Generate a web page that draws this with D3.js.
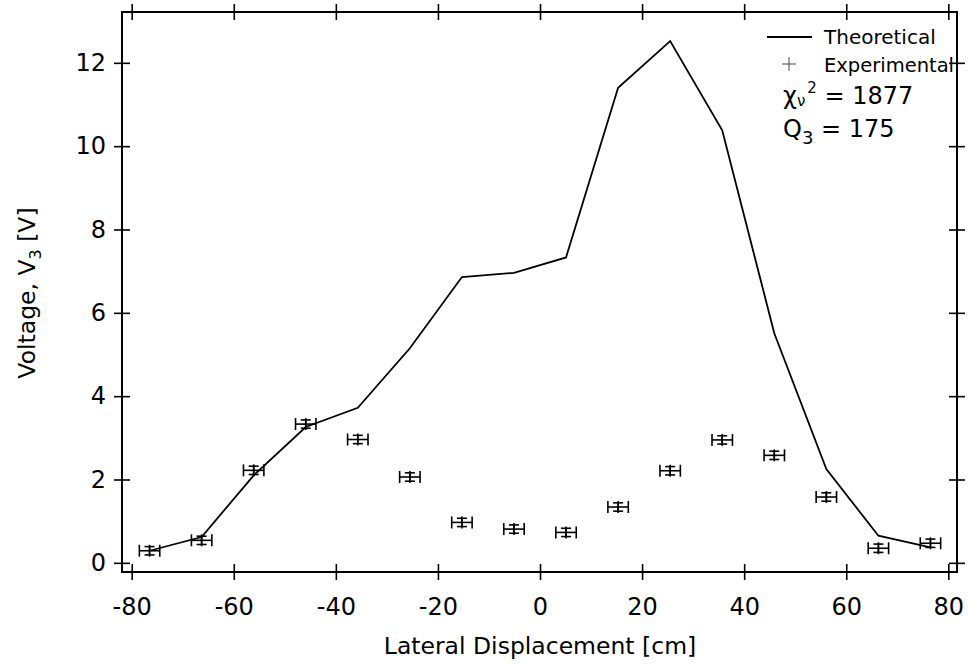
<!DOCTYPE html>
<html>
<head>
<meta charset="utf-8">
<script src="https://cdn.jsdelivr.net/npm/d3@7"></script>
<style>
  body { margin: 0; background: white; }
  svg { display: block; }
  text { font-family: "DejaVu Sans", sans-serif; fill: black; }
</style>
</head>
<body>
<div id="chart"></div>
<script>
//-- DATA --\\
var positions = [-76.5, -66.3, -56.1, -45.9, -35.7, -25.5, -15.3, -5.1, 5.1, 15.3, 25.5, 35.7, 45.9, 56.1, 66.3, 76.5];
var theoretical = [0.29, 0.62, 2.1, 3.26, 3.72, 5.15, 6.86, 6.96, 7.33, 11.40, 12.52, 10.38, 5.51, 2.25, 0.65, 0.37];
var experimental = [0.29, 0.54, 2.22, 3.33, 2.96, 2.06, 0.97, 0.81, 0.73, 1.34, 2.21, 2.95, 2.58, 1.58, 0.35, 0.47];
var xErr = 2.0;
var yErr = 0.1;
var xTicks = [-80, -60, -40, -20, 0, 20, 40, 60, 80];
var yTicks = [0, 2, 4, 6, 8, 10, 12];

//-- CONSTANTS --\\
var width = 968;
var height = 665;
var plotLeft = 122, plotRight = 957, plotTop = 12, plotBottom = 572;
var tickLen = 8;

var svg = d3.select("#chart").append("svg")
    .attr("width", width)
    .attr("height", height);

var x = d3.scaleLinear().domain([-81.9, 81.7]).range([plotLeft, plotRight]);
var y = d3.scaleLinear().domain([-0.22, 13.22]).range([plotBottom, plotTop]);

/* crossing ticks: d3 draws them on one side only, so stretch them */
function crossTicks(g, vertical) {
    g.select(".domain").remove();
    g.selectAll(".tick line")
        .attr("stroke", "black")
        .attr("stroke-width", 1.6)
        .attr(vertical ? "x1" : "y1", -tickLen)
        .attr(vertical ? "x2" : "y2", tickLen);
}

var fmt = function (d) { return String(d); };

// bottom axis
var gx = svg.append("g")
    .attr("transform", "translate(0," + plotBottom + ")")
    .call(d3.axisBottom(x).tickValues(xTicks).tickSize(tickLen).tickFormat(fmt));
crossTicks(gx, false);
gx.selectAll(".tick text")
    .attr("font-size", "24px")
    .attr("font-family", "DejaVu Sans")
    .attr("y", 43)
    .attr("dy", 0);

// top axis
var gxt = svg.append("g")
    .attr("transform", "translate(0," + plotTop + ")")
    .call(d3.axisTop(x).tickValues(xTicks).tickSize(tickLen).tickFormat(""));
crossTicks(gxt, false);

// left axis
var gy = svg.append("g")
    .attr("transform", "translate(" + plotLeft + ",0)")
    .call(d3.axisLeft(y).tickValues(yTicks).tickSize(tickLen).tickPadding(8).tickFormat(fmt));
crossTicks(gy, true);
gy.selectAll(".tick text").attr("font-size", "24px").attr("font-family", "DejaVu Sans");

// right axis
var gyr = svg.append("g")
    .attr("transform", "translate(" + plotRight + ",0)")
    .call(d3.axisRight(y).tickValues(yTicks).tickSize(tickLen).tickFormat(""));
crossTicks(gyr, true);

// frame
svg.append("rect")
    .attr("x", plotLeft).attr("y", plotTop)
    .attr("width", plotRight - plotLeft).attr("height", plotBottom - plotTop)
    .attr("fill", "none")
    .attr("stroke", "black")
    .attr("stroke-width", 2);

// theoretical curve
var line = d3.line()
    .x(function (d, i) { return x(positions[i]); })
    .y(function (d) { return y(d); });

svg.append("path")
    .datum(theoretical)
    .attr("d", line)
    .attr("fill", "none")
    .attr("stroke", "black")
    .attr("stroke-width", 1.8)
    .attr("stroke-linejoin", "miter");

// experimental points with error bars
var pts = svg.append("g")
    .attr("stroke", "black")
    .attr("stroke-width", 1.6)
    .attr("fill", "none");

experimental.forEach(function (v, i) {
    var cx = x(positions[i]);
    var cy = y(v);
    var x0 = x(positions[i] - xErr), x1 = x(positions[i] + xErr);
    var y0 = y(v + yErr), y1 = y(v - yErr);
    var g = pts.append("g");
    // horizontal error bar with caps
    g.append("line").attr("x1", x0).attr("x2", x1).attr("y1", cy).attr("y2", cy);
    g.append("line").attr("x1", x0).attr("x2", x0).attr("y1", cy - 6).attr("y2", cy + 6);
    g.append("line").attr("x1", x1).attr("x2", x1).attr("y1", cy - 6).attr("y2", cy + 6);
    // vertical error bar with caps
    g.append("line").attr("x1", cx).attr("x2", cx).attr("y1", y0).attr("y2", y1);
    g.append("line").attr("x1", cx - 5).attr("x2", cx + 5).attr("y1", y0).attr("y2", y0);
    g.append("line").attr("x1", cx - 5).attr("x2", cx + 5).attr("y1", y1).attr("y2", y1);
    // plus marker
    g.append("line").attr("x1", cx).attr("x2", cx).attr("y1", cy - 6).attr("y2", cy + 6);
});

// axis titles
svg.append("text")
    .attr("x", 540)
    .attr("y", 654)
    .attr("text-anchor", "middle")
    .attr("font-size", "23.5px")
    .text("Lateral Displacement [cm]");

var yt = svg.append("text")
    .attr("transform", "translate(35,293) rotate(-90)")
    .attr("text-anchor", "middle")
    .attr("font-size", "23.5px");
yt.append("tspan").text("Voltage, V");
yt.append("tspan").attr("font-size", "16px").attr("dy", 6).text("3");
yt.append("tspan").attr("dy", -6).text(" [V]");

// legend
svg.append("line")
    .attr("x1", 767).attr("x2", 812).attr("y1", 37).attr("y2", 37)
    .attr("stroke", "black").attr("stroke-width", 1.8);
svg.append("text").attr("x", 824).attr("y", 44).attr("font-size", "20px").text("Theoretical");

svg.append("line").attr("x1", 782).attr("x2", 796).attr("y1", 64).attr("y2", 64)
    .attr("stroke", "#444").attr("stroke-width", 1);
svg.append("line").attr("x1", 789).attr("x2", 789).attr("y1", 57).attr("y2", 71)
    .attr("stroke", "#444").attr("stroke-width", 1);
svg.append("text").attr("x", 824).attr("y", 72).attr("font-size", "19.5px").text("Experimental");

var chi = svg.append("text").attr("x", 783).attr("y", 104).attr("font-size", "24px");
chi.append("tspan").text("\u03c7");
chi.append("tspan").attr("font-size", "15px").attr("dy", 2).text("\u03bd");
chi.append("tspan").attr("font-size", "15px").attr("dy", -13).attr("dx", 2).text("2");
chi.append("tspan").attr("dy", 11).text(" = 1877");

var q = svg.append("text").attr("x", 783).attr("y", 137).attr("font-size", "24px");
q.append("tspan").text("Q");
q.append("tspan").attr("font-size", "18px").attr("dy", 7).text("3");
q.append("tspan").attr("dy", -7).text(" = 175");
</script>
</body>
</html>
